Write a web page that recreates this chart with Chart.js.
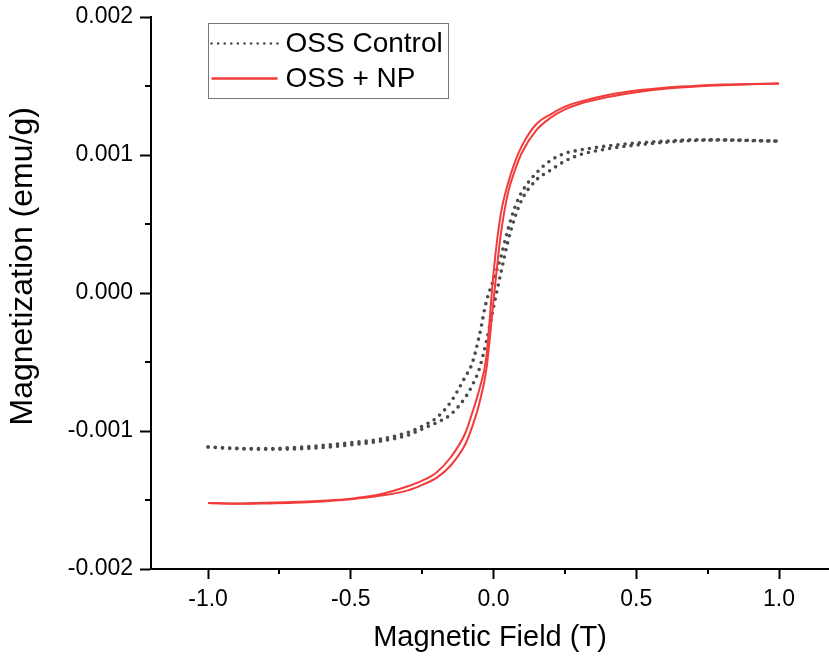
<!DOCTYPE html>
<html lang="en">
<head>
  <meta charset="UTF-8" />
  <title>Magnetization vs Magnetic Field</title>
  <script src="https://cdn.jsdelivr.net/npm/chart.js"></script>
  <style>
    html, body { margin: 0; padding: 0; background: #fff; overflow: hidden; }
    #wrap { width: 829px; height: 660px; }
  </style>
</head>
<body>
<div id="wrap"><canvas id="loopChart" width="829" height="660"></canvas></div>

<script>
  // applied field (T), shared by every branch, low -> high
  const fieldT = [-1.0, -0.9, -0.8, -0.7, -0.6, -0.5, -0.4, -0.3, -0.25, -0.2, -0.15, -0.1, -0.075, -0.05, -0.025,
    0.0, 0.025, 0.05, 0.075, 0.1, 0.15, 0.2, 0.25, 0.3, 0.4, 0.5, 0.6, 0.7, 0.8, 0.9, 1.0];

  // magnetization in units of 1e-3 emu/g
  const controlDown = [-1.116, -1.125, -1.128, -1.120, -1.105, -1.085, -1.060, -1.010, -0.965, -0.905, -0.790, -0.610, -0.510, -0.310, -0.060,
    0.096, 0.257, 0.457, 0.624, 0.735, 0.870, 0.960, 1.012, 1.035, 1.066, 1.087, 1.100, 1.110, 1.110, 1.106, 1.100];
  const controlUp = [-1.116, -1.128, -1.132, -1.130, -1.120, -1.100, -1.075, -1.030, -0.985, -0.940, -0.880, -0.760, -0.670, -0.550, -0.350,
    -0.100, 0.140, 0.370, 0.550, 0.680, 0.820, 0.890, 0.956, 1.000, 1.045, 1.072, 1.092, 1.105, 1.108, 1.104, 1.100];
  const npDown = [-1.522, -1.525, -1.520, -1.515, -1.505, -1.490, -1.460, -1.400, -1.360, -1.300, -1.190, -1.020, -0.870, -0.700, -0.460,
    0.150, 0.570, 0.790, 0.950, 1.070, 1.225, 1.295, 1.350, 1.385, 1.435, 1.468, 1.488, 1.500, 1.510, 1.515, 1.518];
  const npUp = [-1.522, -1.528, -1.525, -1.520, -1.510, -1.495, -1.470, -1.430, -1.390, -1.340, -1.250, -1.100, -0.970, -0.800, -0.550,
    -0.050, 0.420, 0.720, 0.890, 1.020, 1.180, 1.270, 1.330, 1.370, 1.420, 1.455, 1.480, 1.495, 1.505, 1.512, 1.518];

  const xTicks = [-1.0, -0.5, 0.0, 0.5, 1.0];
  const xMinor = [-0.75, -0.25, 0.25, 0.75];
  const yTicks = [-0.002, -0.001, 0.0, 0.001, 0.002];
  const yMinor = [-0.0015, -0.0005, 0.0005, 0.0015];

  const FONT = '"Liberation Sans", Arial, sans-serif';
  const GRAY = '#4a4a4a';
  const RED = '#f23b3b';

  function toPoints(values) {
    return values.map((v, i) => ({ x: fieldT[i], y: v * 1e-3 }));
  }

  const dotted = {
    borderColor: GRAY, borderWidth: 3.6, borderDash: [0, 7.2], borderCapStyle: 'round',
    pointRadius: 0, fill: false, cubicInterpolationMode: 'monotone', order: 2
  };
  const solid = {
    borderColor: RED, borderWidth: 2, pointRadius: 0, fill: false,
    cubicInterpolationMode: 'monotone', order: 1
  };

  const datasets = [
    { ...dotted, label: 'OSS Control', data: toPoints(controlDown), legendWidth: 2.6, legendDash: [0, 6.6] },
    { ...dotted, label: 'OSS Control', data: toPoints(controlUp), skipLegend: true },
    { ...solid, label: 'OSS + NP', data: toPoints(npDown), legendWidth: 2.4, legendDash: [] },
    { ...solid, label: 'OSS + NP', data: toPoints(npUp), skipLegend: true }
  ];

  // short ticks half way between the labelled ones
  const minorTicks = {
    id: 'minorTicks',
    afterDraw(chart) {
      const { ctx } = chart;
      const xs = chart.scales.x, ys = chart.scales.y;
      ctx.save();
      ctx.strokeStyle = '#000';
      ctx.lineWidth = 2;
      ctx.beginPath();
      xMinor.forEach(v => {
        const px = Math.round(xs.getPixelForValue(v));
        ctx.moveTo(px, xs.top);
        ctx.lineTo(px, xs.top + 5);
      });
      yMinor.forEach(v => {
        const py = Math.round(ys.getPixelForValue(v));
        ctx.moveTo(ys.right, py);
        ctx.lineTo(ys.right - 6, py);
      });
      ctx.stroke();
      ctx.restore();
    }
  };

  // boxed legend inside the plot, top left
  const boxLegend = {
    id: 'boxLegend',
    afterDraw(chart) {
      const { ctx, chartArea } = chart;
      const entries = chart.data.datasets.filter(d => !d.skipLegend);
      ctx.save();
      ctx.font = '28px ' + FONT;
      const textW = Math.max(...entries.map(e => ctx.measureText(e.label).width));
      const left = Math.round(chartArea.left + 57) + 0.5;
      const top = Math.round(chartArea.top + 6) + 0.5;
      const sampleW = 66, rowH = 35;
      const w = Math.round(2 + sampleW + 9 + textW + 6);
      const h = rowH * entries.length + 5;
      ctx.fillStyle = '#fff';
      ctx.fillRect(left, top, w, h);
      ctx.strokeStyle = '#777';
      ctx.lineWidth = 1;
      ctx.strokeRect(left, top, w, h);
      entries.forEach((e, i) => {
        const y = top + 20 + i * rowH;
        ctx.beginPath();
        ctx.strokeStyle = e.borderColor;
        ctx.lineWidth = e.legendWidth;
        ctx.lineCap = e.borderCapStyle || 'butt';
        ctx.setLineDash(e.legendDash);
        ctx.moveTo(left + 3, y);
        ctx.lineTo(left + 3 + sampleW, y);
        ctx.stroke();
        ctx.setLineDash([]);
        ctx.fillStyle = '#000';
        ctx.textBaseline = 'middle';
        ctx.fillText(e.label, left + 2 + sampleW + 9, y + 1);
      });
      ctx.restore();
    }
  };

  Chart.defaults.font.family = FONT;
  Chart.defaults.color = '#000';

  new Chart(document.getElementById('loopChart'), {
    type: 'line',
    data: { datasets },
    options: {
      responsive: false,
      animation: false,
      layout: { padding: { top: 17, right: 0, bottom: 0, left: 0 } },
      plugins: { legend: { display: false }, tooltip: { enabled: false } },
      scales: {
        x: {
          type: 'linear',
          min: -1.2,
          max: 1.175,
          afterBuildTicks(s) { s.ticks = xTicks.map(v => ({ value: v })); },
          afterFit(s) { s.height = 91; s.paddingLeft = 0; s.paddingRight = 0; },
          ticks: { callback: v => v.toFixed(1), font: { size: 23 }, color: '#000', padding: 7, maxRotation: 0, autoSkip: false },
          grid: { drawOnChartArea: false, drawTicks: true, tickLength: 10, tickColor: '#000', tickWidth: 2 },
          border: { display: true, color: '#000', width: 2 },
          title: { display: true, text: 'Magnetic Field (T)', font: { size: 29 }, color: '#000', padding: { top: 0, bottom: 5 } }
        },
        y: {
          min: -0.002,
          max: 0.002,
          afterBuildTicks(s) { s.ticks = yTicks.map(v => ({ value: v })); },
          afterFit(s) { s.width = 151; s.paddingTop = 0; s.paddingBottom = 0; },
          ticks: { callback: v => v.toFixed(3), font: { size: 23 }, color: '#000', padding: 7, autoSkip: false },
          grid: { drawOnChartArea: false, drawTicks: true, tickLength: 11, tickColor: '#000', tickWidth: 2 },
          border: { display: true, color: '#000', width: 2 },
          // leading spaces push the title a little above the middle of the axis, as in the original
          title: { display: true, text: '      Magnetization (emu/g)', font: { size: 32 }, color: '#000', padding: { top: 4, bottom: 0 } }
        }
      }
    },
    plugins: [minorTicks, boxLegend]
  });
</script>
</body>
</html>
